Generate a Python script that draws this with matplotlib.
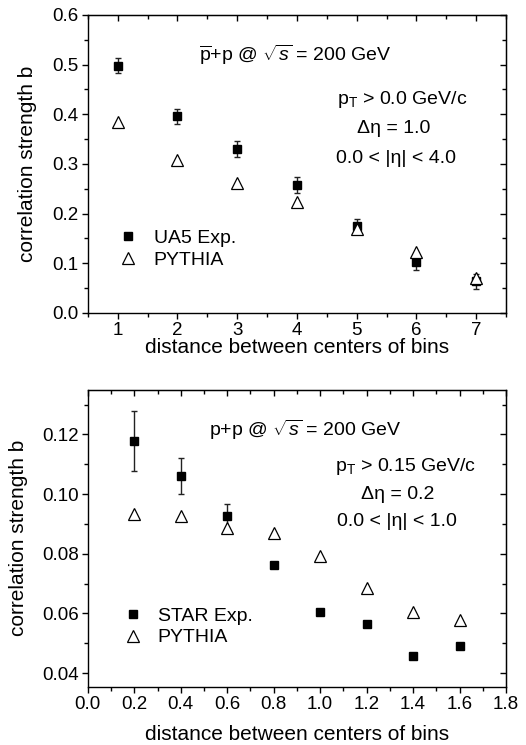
import numpy as np
import matplotlib.pyplot as plt
from matplotlib.ticker import MultipleLocator

plt.rcParams['font.family'] = ['Liberation Sans', 'DejaVu Sans']
plt.rcParams['mathtext.fontset'] = 'custom'
plt.rcParams['mathtext.rm'] = 'Liberation Sans'
plt.rcParams['mathtext.it'] = 'Liberation Sans:italic'

# UA5 p̄+p, 200 GeV
ua5_x = [1, 2, 3, 4, 5, 6, 7]
ua5_b = [0.498, 0.396, 0.330, 0.258, 0.174, 0.102, 0.064]
ua5_err = [0.015, 0.015, 0.016, 0.016, 0.015, 0.015, 0.015]
pyth1_b = [0.384, 0.308, 0.261, 0.223, 0.169, 0.122, 0.070]

# STAR p+p, 200 GeV
star_x = [0.2, 0.4, 0.6, 0.8, 1.0, 1.2, 1.4, 1.6]
star_b = [0.1177, 0.1060, 0.0928, 0.0762, 0.0605, 0.0566, 0.0456, 0.0490]
star_err = [0.0100, 0.0060, 0.0040, 0.0, 0.0, 0.0, 0.0, 0.0]
pyth2_b = [0.0933, 0.0926, 0.0887, 0.0870, 0.0792, 0.0685, 0.0605, 0.0577]

fig = plt.figure(figsize=(5.26, 7.45), dpi=100)
ax1 = fig.add_axes([0.167, 0.580, 0.795, 0.400])
ax2 = fig.add_axes([0.167, 0.078, 0.795, 0.399])


def style(ax, xmaj, xmin, ymaj, ymin, xpad, ypad):
    ax.xaxis.set_major_locator(MultipleLocator(xmaj))
    ax.xaxis.set_minor_locator(MultipleLocator(xmin))
    ax.yaxis.set_major_locator(MultipleLocator(ymaj))
    ax.yaxis.set_minor_locator(MultipleLocator(ymin))
    ax.tick_params(which='major', direction='out', length=4, width=1,
                   labelsize=13.5, pad=2.5)
    ax.tick_params(which='minor', direction='out', length=3, width=1)
    for sp in ax.spines.values():
        sp.set_linewidth(1)
    # mirrored ticks pointing inward on top/right
    top = ax.secondary_xaxis('top')
    top.xaxis.set_major_locator(MultipleLocator(xmaj))
    top.xaxis.set_minor_locator(MultipleLocator(xmin))
    top.tick_params(which='major', direction='in', length=4, width=1,
                    labeltop=False)
    top.tick_params(which='minor', direction='in', length=3, width=1)
    right = ax.secondary_yaxis('right')
    right.yaxis.set_major_locator(MultipleLocator(ymaj))
    right.yaxis.set_minor_locator(MultipleLocator(ymin))
    right.tick_params(which='major', direction='in', length=4, width=1,
                      labelright=False)
    right.tick_params(which='minor', direction='in', length=3, width=1)
    ax.set_xlabel('distance between centers of bins', fontsize=15,
                  labelpad=xpad)
    ax.set_ylabel('correlation strength b', fontsize=15, labelpad=ypad)


# top panel
ax1.errorbar(ua5_x, ua5_b, yerr=ua5_err, fmt='none', ecolor='#222222',
             elinewidth=1, capsize=2.5, capthick=1)
ax1.plot(ua5_x, ua5_b, 's', color='black', ms=6, label='UA5 Exp.')
ax1.plot(ua5_x, pyth1_b, '^', mfc='white', mec='black', mew=0.9, ms=9,
         label='PYTHIA')
ax1.set_xlim(0.5, 7.5)
ax1.set_ylim(0.0, 0.6)
style(ax1, 1, 0.5, 0.1, 0.05, xpad=-1, ypad=11)
ax1.yaxis.set_major_formatter(plt.FormatStrFormatter('%.1f'))
ax1.text(0.495, 0.868, r'$\overline{\rm p}$+p @ $\sqrt{s}$ = 200 GeV',
         transform=ax1.transAxes, ha='center', va='center', fontsize=14)
ax1.text(0.751, 0.715, r'p$_{\rm T}$ > 0.0 GeV/c', transform=ax1.transAxes,
         ha='center', va='center', fontsize=14)
ax1.text(0.732, 0.618, 'Δη = 1.0', transform=ax1.transAxes,
         ha='center', va='center', fontsize=14)
ax1.text(0.737, 0.517, '0.0 < |η| < 4.0', transform=ax1.transAxes,
         ha='center', va='center', fontsize=14)
ax1.legend(loc='lower left', bbox_to_anchor=(0.055, 0.122), frameon=False,
           fontsize=14, handlelength=1.0, handletextpad=0.8, labelspacing=0.2,
           borderaxespad=0)

# bottom panel
ax2.errorbar(star_x, star_b, yerr=star_err, fmt='none', ecolor='#222222',
             elinewidth=1, capsize=2.5, capthick=1)
ax2.plot(star_x, star_b, 's', color='black', ms=6, label='STAR Exp.')
ax2.plot(star_x, pyth2_b, '^', mfc='white', mec='black', mew=0.9, ms=9,
         label='PYTHIA')
ax2.set_xlim(0.0, 1.8)
ax2.set_ylim(0.0354, 0.135)
style(ax2, 0.2, 0.1, 0.02, 0.01, xpad=8.5, ypad=10)
ax2.xaxis.set_major_formatter(plt.FormatStrFormatter('%.1f'))
ax2.yaxis.set_major_formatter(plt.FormatStrFormatter('%.2f'))
ax2.text(0.52, 0.866, r'p+p @ $\sqrt{s}$ = 200 GeV',
         transform=ax2.transAxes, ha='center', va='center', fontsize=14)
ax2.text(0.76, 0.741, r'p$_{\rm T}$ > 0.15 GeV/c', transform=ax2.transAxes,
         ha='center', va='center', fontsize=14)
ax2.text(0.74, 0.647, 'Δη = 0.2', transform=ax2.transAxes,
         ha='center', va='center', fontsize=14)
ax2.text(0.74, 0.556, '0.0 < |η| < 1.0', transform=ax2.transAxes,
         ha='center', va='center', fontsize=14)
ax2.legend(loc='lower left', bbox_to_anchor=(0.065, 0.11), frameon=False,
           fontsize=14, handlelength=1.0, handletextpad=0.8, labelspacing=0.2,
           borderaxespad=0)

fig.savefig('out.png', dpi=100)
